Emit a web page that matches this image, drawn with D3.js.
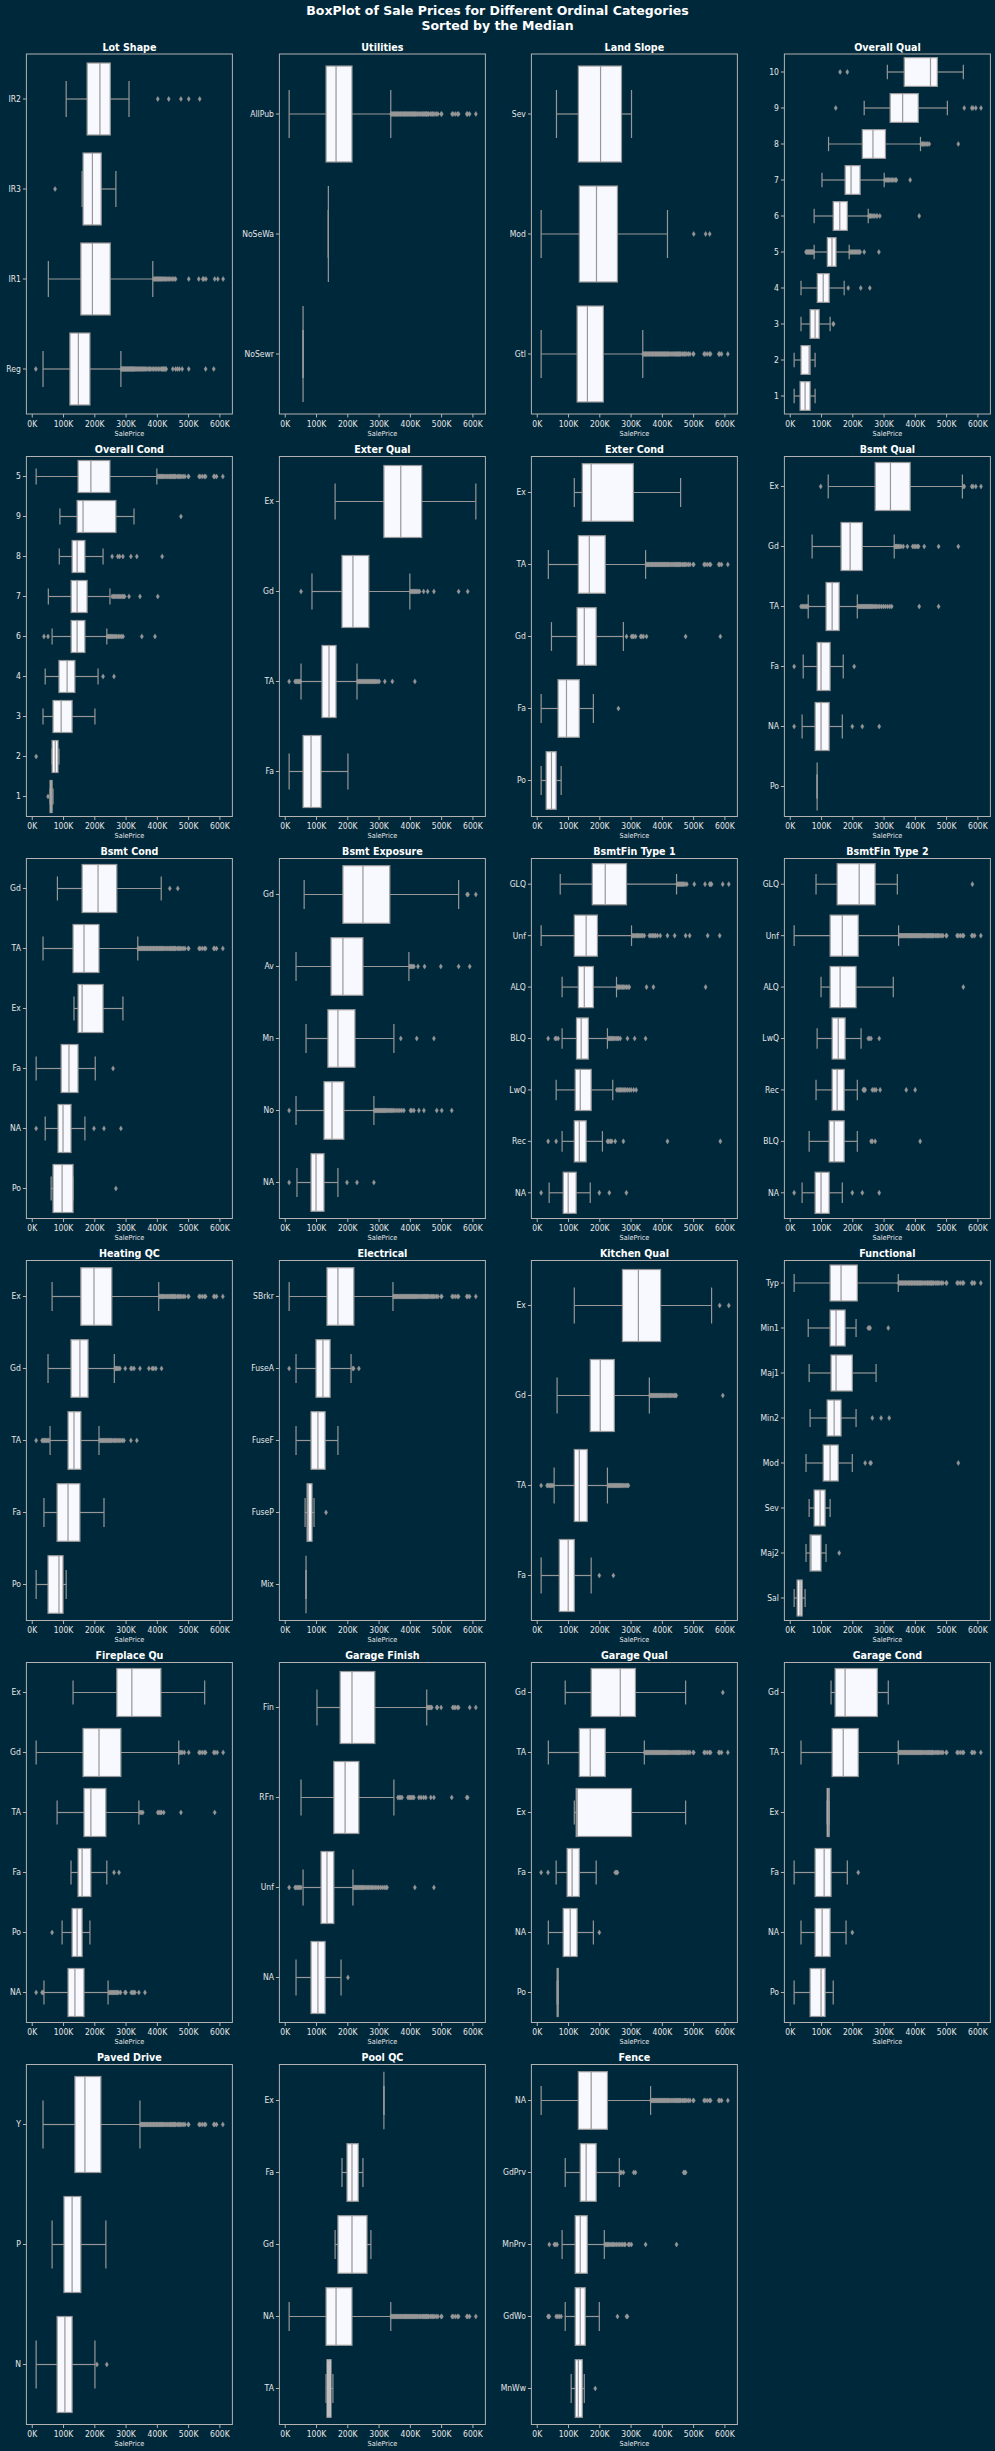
<!DOCTYPE html>
<html><head><meta charset="utf-8">
<script src="https://cdn.jsdelivr.net/npm/d3@7"></script>
<style>html,body{margin:0;padding:0;background:#00283b;}svg{display:block}</style>
</head><body>
<svg id="chart" width="995" height="2451"></svg>
<script>
// ---------------- DATA (SalePrice in thousands) ----------------
const above = (arr, t) => arr.filter(v => v > t);
const xTickValues = [0, 100, 200, 300, 400, 500, 600];
const xDomain = [-17.154, 641.6];
// common high-price outlier tail
const tailFull = [340,342,345,348,350,352,355,357,360,362,365,368,370,372,375,378,380,383,385,388,390,392,395,398,400,403,405,408,410,413,415,418,420,423,426,430,433,436,440,442,445,448,450,453,455,458,460,465,468,472,475,480,485,490,500,502,535,538,545,552,556,582,585,591,611];

// stats rows: [whisker low, Q1, median, Q3, whisker high]
const lotShapeCats = ["IR2","IR3","IR1","Reg"];
const lotShapeStats = [[110,177,218,251,311],[161,164,194,222,269],[53,157,194,251,387],[36,122,149,186,285]];
const lotShapeFliers = [[403,438,477,502,537],[74.5],
  [390,393,396,399,402,405,408,411,414,417,420,424,428,432,436,440,445,450,455,460,502,534,547,550,557,585,595,612],
  [13,286,288,290,292,294,296,298,300,302,304,306,308,310,312,314,316,318,320,322,324,326,328,330,333,336,339,342,345,348,351,354,357,360,364,368,372,376,380,385,390,395,400,405,410,415,418,421,424,427,430,451,460,466,472,481,502,556,582]];

const utilitiesCats = ["AllPub","NoSeWa","NoSewr"];
const utilitiesStats = [[14,132,164,215,339],[139.4,139.4,139.4,139.4,139.4],[58.5,58.5,58.5,58.5,58.5]];
const utilitiesFliers = [above(tailFull,339),[],[]];

const landSlopeCats = ["Sev","Mod","Gtl"];
const landSlopeStats = [[63,133,204,271,303],[14,136,191,258,418],[14,129,162,213,339]];
const landSlopeFliers = [[],[502,540,553],above(tailFull,339)];

const overallQualCats = ["10","9","8","7","6","5","4","3","2","1"];
const overallQualStats = [[312,366,450,472,555],[238,321,361,411,504],[124,232,266,306,418],[103,177,196,225,302],[78,139,160,184,251],[78,120,135,148,190],[36,88,107,126,174],[36,65,81,94,129],[14,36,62,65,81],[14,33,49,65,81]];
const overallQualFliers = [[161,184],[147,558,582,586,595,611.5],[420,424,428,432,436,441,446,539],
  [304,308,312,316,320,324,328,333,338,341,385],[253,256,258,262,266,270,276,280,288,414],
  [52,54,56,58,60,62,64,66,68,70,72,74,76,192,195,198,201,204,207,210,213,216,219,222,225,238,285],
  [187,227,256],[139,140],[],[]];

const overallCondCats = ["5","9","8","7","6","4","3","2","1"];
const overallCondStats = [[14,148,189,250,400],[90,145,164,269,327],[88,129,145,170,228],[53,126,145,177,250],[65,126,145,170,240],[43,87,113,138,212],[36,68,94,129,202],[65,65,75,84,87],[58.5,58.5,62,65,68]];
const overallCondFliers = [above(tailFull,400),[477],[257,275,281,291.5,317,336,417],
  [257,261,265,269,273,277,281,285,289,293,297,311,346,403],
  [39,52,242,245,248,251,254,257,260,264,268,272,277,282,287,292,352,394],
  [228,263],[],[14],[52]];

const exterQualCats = ["Ex","Gd","TA","Fa"];
const exterQualStats = [[161,317,371,438,611],[87,183,218,269,400],[52,119,141.5,164,231],[14,58.5,84,116,202]];
const exterQualFliers = [[],[52,402,405,408,411,414,417,420,423,427,431,444,457,477,556,585],
  [14,33,36,39,42,45,48,50,233,236,239,242,245,248,251,254,257,260,263,266,269,272,275,278,281,284,287,290,294,298,302,320,344,416],[]];

const exterCondCats = ["Ex","TA","Gd","Fa","Po"];
const exterCondStats = [[120,145.5,174,309,460],[37,133,168,219,348],[47,129,152,190,277],[14,68,95,136,181],[14,30,47,62,78]];
const exterCondFliers = [[],above(tailFull,348),[287,303,307,310,316,332,336,341,351,476,587],[261],[]];

const bsmtQualCats = ["Ex","Gd","TA","Fa","NA","Po"];
const bsmtQualStats = [[123,273,322,385,552],[71.5,164,193,232,334],[59,116,135.5,158,216],[43,87.5,100,129,171],[39.5,81,100,126,168],[87.5,87.5,87.5,87.5,87.5]];
const bsmtQualFliers = [[99,555,558,582,586,595,611.5],
  [336,338,340,342,345,348,352,356,363,376,393,398,403,408,412,430,476,539],
  [36,40,44,48,52,55,58,218,221,224,227,230,233,236,239,242,245,248,251,254,257,260,263,266,270,274,278,283,288,294,300,306,313,320,326,414,476],
  [14,206],[14,200,232,286],[]];

const bsmtCondCats = ["Gd","TA","Ex","Fa","NA","Po"];
const bsmtCondStats = [[82,161,212,272,414],[36,132,167,215,339],[135,148,161,228,291.5],[14,94,119,148,203],[43,84,100,125.5,170],[62,68,97,132,132]];
const bsmtCondFliers = [[441.5,467],above(tailFull,339),[],[260],[14,199,231,285],[269]];

const bsmtExposureCats = ["Gd","Av","Mn","No","NA"];
const bsmtExposureStats = [[62,186,250,336,556],[36,148,186,250,397],[68,138,170,224.5,349],[36,125.5,151,189,285],[39,84,100,125.5,170]];
const bsmtExposureFliers = [[583,586,611],[400,403,406,410,413,426,447,499,556,591.5],[371,422,477],
  [14,287,290,293,296,299,302,305,308,311,314,317,320,323,326,330,334,338,342,346,350,356,362,368,374,381,402,406,413,429,445,486,502,534],
  [14,199,231,285]];

const bsmtFin1Cats = ["GLQ","Unf","ALQ","BLQ","LwQ","Rec","NA"];
const bsmtFin1Stats = [[75,177.5,219,287,447],[14,120,158,194,303],[81,133,152,181,255],[81,127,142,165,226],[62,123,139,174,243],[81,120,136,158,210],[39.6,84.5,100.5,126,171]];
const bsmtFin1Fliers = [[449,452,455,458,461,464,467,470,474,480,503.7,538,553,556,559,594.6,614],
  [306,310,314,318,322,326,330,334,339,344,360,365,370,375,380,386,395,418,441,476,489,546.5,585],
  [257,260,263,266,270,274,278,282,287,292,296,351,373,540],
  [36.4,59,62,68.4,228,231,234,237,240,243,246,250,254,258,262,267,290,313,348],
  [256,260,264,268,272,276,280,285,290,296,302,310,318],
  [36.4,62,226,230,235,240,251,277,418,587],
  [14,200,232,286.6]];

const bsmtFin2Cats = ["GLQ","Unf","ALQ","LwQ","Rec","BLQ","NA"];
const bsmtFin2Stats = [[84,151.5,222,273,344],[14,129,168,219,348],[100,129,161,212,331],[87.5,135.5,155,177,228],[84,135.5,151.5,174,216],[62,126,142,174,216],[39.5,81,100,126,168]];
const bsmtFin2Fliers = [[584],above(tailFull,348),[555],[251,255,260,286],[235,237,239,241,264,270,276,289,372.5,401],[260,264,273,417],[14,200,232,286]];

const heatingQCCats = ["Ex","Gd","TA","Fa","Po"];
const heatingQCStats = [[65,157,199,256,406],[52,125.5,154,180,264],[58.5,116,135,157,215],[39,81,116,154,231],[14,52,87,100,110]];
const heatingQCFliers = [above(tailFull,406),
  [266,268,271,274,278,282,299,317,320,327,346,374.5,385,390,397,415],
  [14,33,36,39,42,45,48,52,55,217,220,223,226,229,232,235,238,241,244,247,250,253,256,260,264,268,272,276,280,285,290,295,317,336],
  [],[]];

const electricalCats = ["SBrkr","FuseA","FuseF","FuseP","Mix"];
const electricalStats = [[14,135,170,221,346],[36,100,122,145,212],[36,84,106,129,170],[65,71.3,74.5,87.2,93.6],[68,68,68,68,68]];
const electricalFliers = [above(tailFull,346),[14,218,220,237],[],[132],[]];

const kitchenQualCats = ["Ex","Gd","TA","Fa"];
const kitchenQualStats = [[120,274,325,396,559],[65,171,203,248,360],[55.6,120,136,161.5,226],[14,72,100.5,120,174]];
const kitchenQualFliers = [[585,614],
  [362,365,368,371,374,377,380,383,386,389,392,395,398,401,404,408,412,416,420,424,428,432,436,440,444,446,595],
  [14,33,36,40,44,48,52,228,231,234,237,240,243,246,249,252,255,258,261,264,267,270,274,278,282,286,290,293],
  [200,245]];

const functionalCats = ["Typ","Min1","Maj1","Min2","Mod","Sev","Maj2","Sal"];
const functionalStats = [[14,129,164,216,347],[59,129,148,177,212],[62,132,148,200,276],[65,119.5,142,164,212],[52,107,129,155,200],[62,78,97,113,129],[52,65,68,100,116],[14,23.5,33,39.5,49]];
const functionalFliers = [above(tailFull,347),[251,254,257,315],[],[264,292,318],[241,257,260,539],[],[158],[]];

const fireplaceQuCats = ["Ex","Gd","TA","Fa","Po","NA"];
const fireplaceQuStats = [[132,272,320,413,553],[14,164,215,285,470],[81,167,189,237,342.5],[125.5,148,161,189,240],[97,129,145,161,186],[39,116,138,167,244]];
const fireplaceQuFliers = [[],[473,477,481,488,502,535,538,545,552,556,582,586,593,612],
  [346,350,355,403,407,411,415,422,477,585],[263,279],[65],
  [14,33,36,247,250,253,256,259,262,265,268,271,274,278,284,298,301,318,322,326,330,342.5,362]];

const garageFinishCats = ["Fin","RFn","Unf","NA"];
const garageFinishStats = [[103,177,215,288,454],[52,157,193,237,349],[58.5,116,135,157,218],[36,84,106,129,180]];
const garageFinishFliers = [[456,458,461,464,467,470,486,488,500,537,541,545,552,556,591.5,611],
  [362,366,370,375,394,398,402,406,410,413,429,436,444,451,467,477,534,582,585],
  [14,33,36,40,44,48,52,220,223,226,229,232,235,238,241,244,247,250,253,256,260,264,268,272,276,280,285,290,295,300,306,312,318,324,327,416,477],
  [202]];

const garageQualCats = ["Gd","TA","Ex","Fa","NA","Po"];
const garageQualStats = [[91,174,267,315.5,476],[37,136,171,219,344],[120,126,129.4,303,476],[62,97,113,136,190],[37,84.5,107,129,181],[65,65.2,66.5,68.4,68.4]];
const garageQualFliers = [[595],above(tailFull,344),[],[14,36,251,255,258],[200],[]];

const garageCondCats = ["Gd","TA","Ex","Fa","NA","Po"];
const garageCondStats = [[132,145,177,280,315],[36,135.5,171,219,347],[119.5,119.5,124,126,126],[14,81,110,132,184],[36,81,103.5,129,180],[14,65,100,113,139]];
const garageCondFliers = [[],above(tailFull,347),[],[219],[200],[]];

const pavedDriveCats = ["Y","P","N"];
const pavedDriveStats = [[36,138,170,221,346],[65,103,129,157,237],[14,81,106,129,202]];
const pavedDriveFliers = [above(tailFull,346),[],[208.5,240]];

const poolQCCats = ["Ex","Fa","Gd","NA","TA"];
const poolQCStats = [[317,317,317,317,317],[183,199,215,235,250],[161,170,215,263,275.5],[14,132,164,215,339],[132,135,141.5,148,154]];
const poolQCFliers = [[],[],[],above(tailFull,339),[]];

const fenceCats = ["NA","GdPrv","MnPrv","GdWo","MnWw"];
const fenceStats = [[14,133,174,226,364],[91,139,158,190,264],[81,123,139,161.5,216],[91,123,139,155,200],[110,123,133,145.5,152]];
const fenceFliers = [above(tailFull,364),[267,270,277,310,315.5,470,473,476],
  [40,56,60,65,218,221,224,227,230,234,238,242,246,250,255,260,265,270,275,280,283,293,297,302.7,348,447],
  [36,38,40,62,67,72,78,258,287,290],[187]];

const panelTitles = ["Lot Shape","Utilities","Land Slope","Overall Qual","Overall Cond","Exter Qual","Exter Cond","Bsmt Qual","Bsmt Cond","Bsmt Exposure","BsmtFin Type 1","BsmtFin Type 2","Heating QC","Electrical","Kitchen Qual","Functional","Fireplace Qu","Garage Finish","Garage Qual","Garage Cond","Paved Drive","Pool QC","Fence"];
const mainTitle = ["BoxPlot of Sale Prices for Different Ordinal Categories","Sorted by the Median"];
const xLabel = "SalePrice";

// ---------------- DRAWING ----------------
const panelCats = [lotShapeCats,utilitiesCats,landSlopeCats,overallQualCats,overallCondCats,exterQualCats,exterCondCats,bsmtQualCats,bsmtCondCats,bsmtExposureCats,bsmtFin1Cats,bsmtFin2Cats,heatingQCCats,electricalCats,kitchenQualCats,functionalCats,fireplaceQuCats,garageFinishCats,garageQualCats,garageCondCats,pavedDriveCats,poolQCCats,fenceCats];
const panelStats = [lotShapeStats,utilitiesStats,landSlopeStats,overallQualStats,overallCondStats,exterQualStats,exterCondStats,bsmtQualStats,bsmtCondStats,bsmtExposureStats,bsmtFin1Stats,bsmtFin2Stats,heatingQCStats,electricalStats,kitchenQualStats,functionalStats,fireplaceQuStats,garageFinishStats,garageQualStats,garageCondStats,pavedDriveStats,poolQCStats,fenceStats];
const panelFliers = [lotShapeFliers,utilitiesFliers,landSlopeFliers,overallQualFliers,overallCondFliers,exterQualFliers,exterCondFliers,bsmtQualFliers,bsmtCondFliers,bsmtExposureFliers,bsmtFin1Fliers,bsmtFin2Fliers,heatingQCFliers,electricalFliers,kitchenQualFliers,functionalFliers,fireplaceQuFliers,garageFinishFliers,garageQualFliers,garageCondFliers,pavedDriveFliers,poolQCFliers,fenceFliers];

const BG = "#00283b", GRAY = "#979797", BOXFILL = "#f8f8ff", SPINE = "#b2b2b2", TXT = "#e6e6e6";
const FONT = "'DejaVu Sans', Verdana, sans-serif";
const colLeft = [26.4, 279.4, 531.4, 784.4], AX_W = 206;
const rowTop = [54, 456.5, 858.5, 1260.5, 1662.5, 2064.5], AX_H = 360;
const SX = 0.85;

const svg = d3.select("#chart");
svg.append("rect").attr("width", 995).attr("height", 2451).attr("fill", BG);

svg.append("g").selectAll("text").data(mainTitle).join("text")
  .attr("x", 497.5).attr("y", (d, i) => 15.2 + i * 15)
  .attr("text-anchor", "middle").attr("fill", "#ffffff")
  .style("font-family", FONT).style("font-weight", "bold").style("font-size", "12.5px")
  .text(d => d);

const x = d3.scaleLinear().domain(xDomain).range([0, AX_W]);
const diamond = "M0,-2.6L1.6,0L0,2.6L-1.6,0Z";

function squeeze(sel) {
  sel.each(function () {
    const t = d3.select(this);
    const xx = +t.attr("x") || 0;
    t.attr("x", 0).attr("transform", `translate(${xx},0) scale(${SX},1)`);
  });
}

panelTitles.forEach((title, p) => {
  const cats = panelCats[p], stats = panelStats[p], fliers = panelFliers[p];
  const g = svg.append("g").attr("transform", `translate(${colLeft[p % 4]},${rowTop[Math.floor(p / 4)]})`);
  const y = d3.scaleBand().domain(cats).range([0, AX_H]).paddingInner(0.2).paddingOuter(0.1);
  const bw = y.bandwidth();

  // axes
  const xa = g.append("g").attr("transform", `translate(0,${AX_H})`)
    .call(d3.axisBottom(x).tickValues(xTickValues).tickFormat(d => d + "K").tickSize(3.5).tickPadding(3));
  const ya = g.append("g").call(d3.axisLeft(y).tickSize(3.5).tickPadding(2));
  [xa, ya].forEach(a => {
    a.select(".domain").remove();
    a.selectAll(".tick line").attr("stroke", SPINE).attr("stroke-width", 1);
    a.selectAll(".tick text").attr("fill", TXT).style("font-family", FONT).style("font-size", "9px");
  });
  squeeze(xa.selectAll(".tick text"));
  squeeze(ya.selectAll(".tick text"));

  // boxes
  const boxes = g.append("g");
  cats.forEach((c, i) => {
    const [lo, q1, med, q3, hi] = stats[i];
    const y0 = y(c), yc = y0 + bw / 2;
    const bg = boxes.append("g").attr("stroke", GRAY).attr("stroke-width", 1.2);
    bg.append("line").attr("x1", x(lo)).attr("x2", x(q1)).attr("y1", yc).attr("y2", yc);
    bg.append("line").attr("x1", x(q3)).attr("x2", x(hi)).attr("y1", yc).attr("y2", yc);
    bg.append("line").attr("x1", x(lo)).attr("x2", x(lo)).attr("y1", yc - bw / 4).attr("y2", yc + bw / 4);
    bg.append("line").attr("x1", x(hi)).attr("x2", x(hi)).attr("y1", yc - bw / 4).attr("y2", yc + bw / 4);
    bg.append("rect").attr("x", x(q1)).attr("y", y0).attr("width", Math.max(0, x(q3) - x(q1))).attr("height", bw)
      .attr("fill", BOXFILL);
    bg.append("line").attr("x1", x(med)).attr("x2", x(med)).attr("y1", y0).attr("y2", y0 + bw);
    bg.selectAll("path").data(fliers[i]).join("path")
      .attr("d", diamond).attr("transform", d => `translate(${x(d)},${yc})`)
      .attr("fill", GRAY).attr("stroke", GRAY).attr("stroke-width", 0.4);
  });

  // frame
  g.append("rect").attr("width", AX_W).attr("height", AX_H).attr("fill", "none")
    .attr("stroke", SPINE).attr("stroke-width", 1);

  // title
  g.append("text").attr("transform", `translate(${AX_W / 2},-3.5) scale(0.87,1)`)
    .attr("text-anchor", "middle").attr("fill", "#ffffff")
    .style("font-family", FONT).style("font-weight", "bold").style("font-size", "11px").text(title);

  // x label
  g.append("text").attr("transform", `translate(${AX_W / 2},${AX_H + 21.5}) scale(0.93,1)`)
    .attr("text-anchor", "middle").attr("fill", TXT)
    .style("font-family", FONT).style("font-size", "7px").text(xLabel);
});
</script>
</body></html>
